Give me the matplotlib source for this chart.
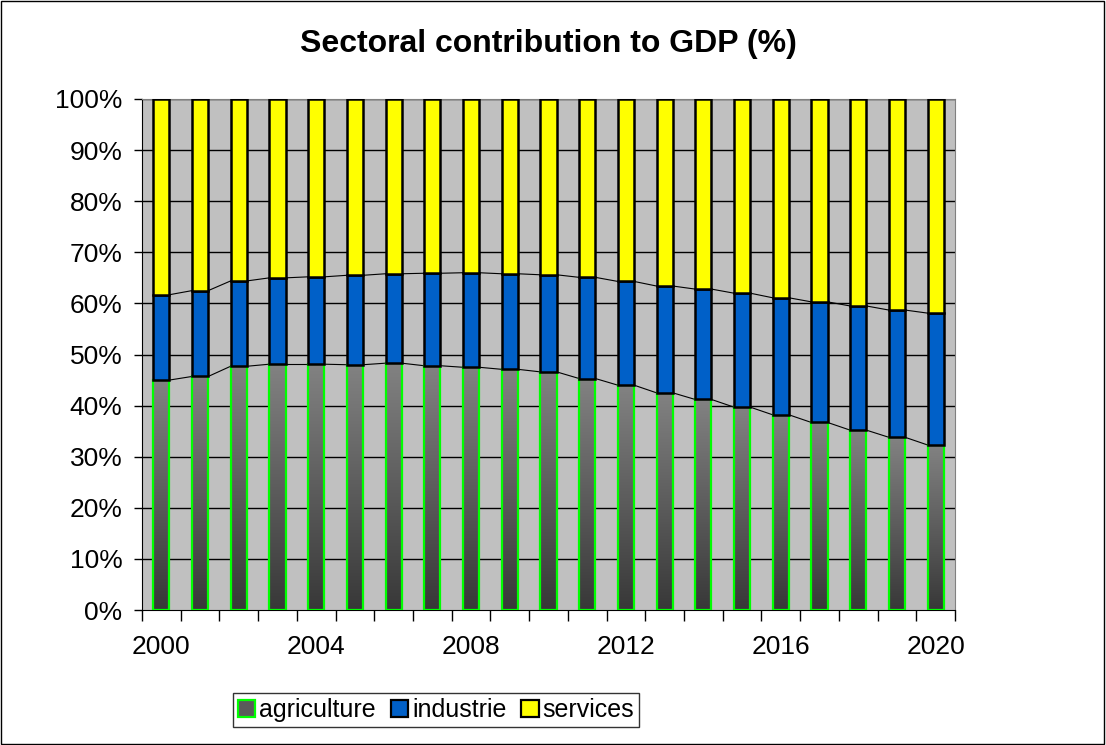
import matplotlib
matplotlib.use("Agg")
import matplotlib.pyplot as plt
import matplotlib.patches as patches
from matplotlib.colors import LinearSegmentedColormap
import numpy as np

plt.rcParams['font.family'] = ['Liberation Sans', 'DejaVu Sans']

# ---------------- data (percent of GDP) ----------------
years = list(range(2000, 2021))
agriculture = [45.0, 45.7, 47.7, 48.1, 48.1, 48.0, 48.3, 47.8, 47.5, 47.1, 46.6,
               45.3, 44.0, 42.5, 41.2, 39.7, 38.2, 36.7, 35.2, 33.8, 32.3]
industrie = [16.7, 16.8, 16.7, 16.9, 17.1, 17.5, 17.5, 18.1, 18.5, 18.7, 19.0,
             19.8, 20.3, 20.9, 21.6, 22.3, 22.9, 23.6, 24.3, 24.9, 25.8]
services = [38.3, 37.5, 35.6, 35.0, 34.8, 34.5, 34.2, 34.1, 34.0, 34.2, 34.4,
            34.9, 35.7, 36.6, 37.2, 38.0, 38.9, 39.7, 40.5, 41.3, 41.9]
year_labels = ['2000', '2004', '2008', '2012', '2016', '2020']

fig = plt.figure(figsize=(11.06, 7.45), dpi=100)
ax = fig.add_axes([142/1106, 1-610/745, (955-142)/1106, (610-99)/745])
ax.set_facecolor('#c0c0c0')

x = np.arange(len(years))
w = 0.42
agri = np.array(agriculture)
ind = np.array(industrie)
serv = np.array(services)
tot = agri + ind + serv
agri_p = agri / tot * 100
ind_p = ind / tot * 100
serv_p = serv / tot * 100

# gridlines
for v in range(10, 101, 10):
    ax.axhline(v, color='black', lw=1.0, zorder=1)

# agriculture bars with vertical gradient
cmap = LinearSegmentedColormap.from_list('agri', ['#383838', '#828282'])
grad = np.linspace(0, 1, 256).reshape(-1, 1)
for i in range(len(x)):
    ax.imshow(grad, cmap=cmap, origin='lower', aspect='auto', zorder=2,
              extent=[x[i]-w/2, x[i]+w/2, 0, agri_p[i]], interpolation='bilinear')
ax.bar(x, agri_p, w, facecolor='none', edgecolor='#00ff00', lw=1.6, zorder=3)
ax.bar(x, ind_p, w, bottom=agri_p, color='#0060c8', edgecolor='black', lw=1.8, zorder=3)
ax.bar(x, serv_p, w, bottom=agri_p+ind_p, color='#ffff00', edgecolor='black', lw=1.8, zorder=3)

# series lines between bars
c1 = agri_p
c2 = agri_p + ind_p
for i in range(len(x)-1):
    ax.plot([x[i]+w/2, x[i+1]-w/2], [c1[i], c1[i+1]], color='black', lw=0.8, zorder=2.5)
    ax.plot([x[i]+w/2, x[i+1]-w/2], [c2[i], c2[i+1]], color='black', lw=0.8, zorder=2.5)

ax.set_xlim(-0.5, len(x)-0.5)
ax.set_ylim(0, 100)

ax.set_yticks(range(0, 101, 10))
ax.set_yticklabels([str(v) + '%' for v in range(0, 101, 10)], fontsize=19)
ax.tick_params(axis='y', direction='out', length=6, width=1, pad=8)

ax.set_xticks([years.index(int(s)) for s in year_labels])
ax.set_xticklabels(year_labels, fontsize=19)
ax.set_xticks(np.arange(-0.5, len(x), 1), minor=True)
ax.tick_params(axis='x', which='major', length=0, pad=18)
ax.tick_params(axis='x', which='minor', direction='out', length=8, width=1)

ax.spines['left'].set_color('black')
ax.spines['bottom'].set_color('black')
ax.spines['top'].set_color('#808080')
ax.spines['right'].set_color('#808080')

ax.set_title('Sectoral contribution to GDP (%)', fontsize=23, fontweight='bold', pad=34)

h1 = patches.Patch(facecolor='#5a5a5a', edgecolor='#00ff00', lw=1.6)
h2 = patches.Patch(facecolor='#0060c8', edgecolor='black', lw=1.6)
h3 = patches.Patch(facecolor='#ffff00', edgecolor='black', lw=1.6)
leg = fig.legend([h1, h2, h3], ['agriculture', 'industrie', 'services'],
                 loc='center', bbox_to_anchor=(436/1106, 1-710/745), ncol=3,
                 fontsize=18, frameon=True, fancybox=False, handlelength=0.7,
                 handleheight=0.7, handletextpad=0.15, columnspacing=0.6,
                 borderpad=0.2, borderaxespad=0)
leg.get_frame().set_edgecolor('black')
leg.get_frame().set_linewidth(1.0)

fig.patches.append(patches.Rectangle((0.001, 0.001), 0.997, 0.997, transform=fig.transFigure,
                                     fill=False, edgecolor='black', lw=1.0))

fig.savefig('out.png', dpi=100)
